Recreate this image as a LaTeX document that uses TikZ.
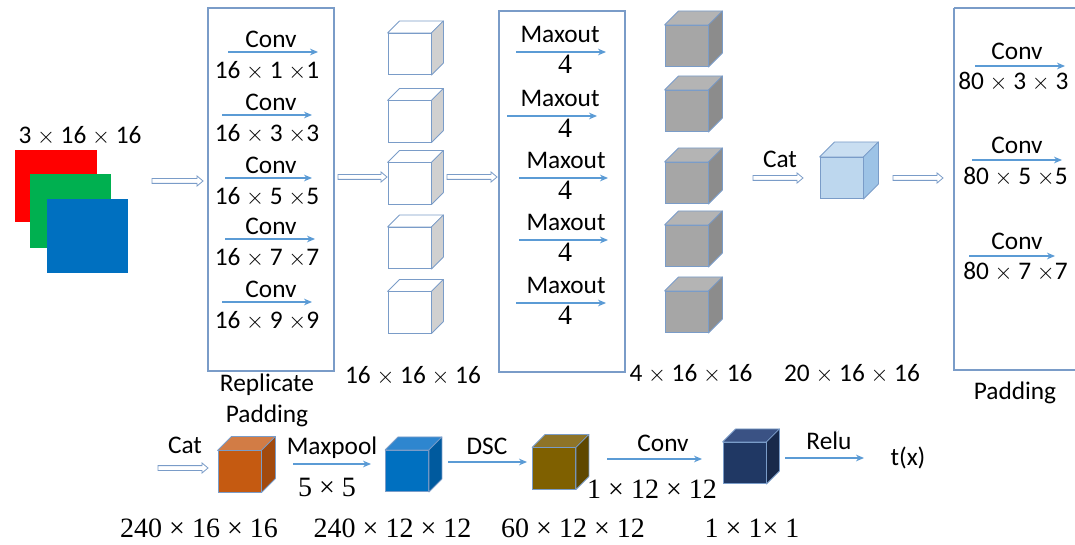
\documentclass[tikz,border=0pt]{standalone}
\usepackage{fontspec}
\setmainfont{Carlito}
\newfontfamily\sernum{Liberation Serif}
\usepackage{tikz}
\usetikzlibrary{calc,arrows.meta}
\usepackage{xcolor}

\definecolor{edgeblue}{HTML}{7A9CC8}
\definecolor{arrowblue}{HTML}{5B9BD5}
\definecolor{imgred}{HTML}{FF0000}
\definecolor{imggreen}{HTML}{00B050}
\definecolor{imgblue}{HTML}{0070C0}
\definecolor{sidegray}{HTML}{D0D0D0}
\definecolor{grayfront}{HTML}{A6A6A6}
\definecolor{graytop}{HTML}{B4B4B4}
\definecolor{grayside}{HTML}{8C8C8C}
\definecolor{catfront}{HTML}{BDD7EE}
\definecolor{cattop}{HTML}{C9DEF1}
\definecolor{catside}{HTML}{9DC3E6}
\definecolor{orfront}{HTML}{C55A11}
\definecolor{ortop}{HTML}{D27C45}
\definecolor{orside}{HTML}{A24A0E}
\definecolor{bluefront}{HTML}{0070C0}
\definecolor{bluetop}{HTML}{2E86CF}
\definecolor{blueside}{HTML}{005A9E}
\definecolor{olfront}{HTML}{7F6000}
\definecolor{oltop}{HTML}{8E7428}
\definecolor{olside}{HTML}{5F4800}
\definecolor{nvfront}{HTML}{203864}
\definecolor{nvtop}{HTML}{3A5284}
\definecolor{nvside}{HTML}{18294A}

\newcommand{\tm}{$\times$}

\tikzset{
	lbl/.style={inner sep=0pt, anchor=base, font=\fontsize{19}{22}\selectfont},
	serlbl/.style={inner sep=0pt, anchor=base, font=\sernum\fontsize{21}{24}\selectfont},
	box/.style={draw=edgeblue, line width=0.8pt},
	arr/.style={draw=arrowblue, line width=0.8pt, -{Stealth[length=6pt,width=5pt]}},
	cubefront/.style={draw=edgeblue, line width=0.6pt, minimum width=32.25pt, minimum height=31pt, inner sep=0pt},
	cubeedge/.style={draw=edgeblue, line width=0.6pt, line join=round},
	hollow/.style={draw=edgeblue, line width=0.6pt, fill=white,
		to path={let \p1=(\tikztostart), \p2=(\tikztotarget) in
			(\x1,\y1-1.8pt) -- (\x2-4.5pt,\y1-1.8pt) -- (\x2-4.5pt,\y1-3.8pt) -- (\x2,\y1)
			-- (\x2-4.5pt,\y1+3.8pt) -- (\x2-4.5pt,\y1+1.8pt) -- (\x1,\y1+1.8pt) -- cycle}}
}

% cube: name, centre of front face, front, top, side, depth
\newcommand{\drawcube}[6]{%
	\node[cubefront, fill=#3] (#1) at (#2) {};
	\draw[cubeedge, fill=#4] (#1.north west) -- ++(#6,-#6) -- ([shift={(#6,-#6)}]#1.north east) -- (#1.north east) -- cycle;
	\draw[cubeedge, fill=#5] (#1.north east) -- ++(#6,-#6) -- ([shift={(#6,-#6)}]#1.south east) -- (#1.south east) -- cycle;
}

\begin{document}
\begin{tikzpicture}[x=0.75pt, y=-0.75pt]
	\useasboundingbox (0,0) rectangle (1075,545);

	% input image, three channels
	\node[fill=imgred, minimum width=61.5pt, minimum height=54pt, inner sep=0pt] (red) at (56,186) {};
	\node[fill=imggreen, minimum width=60.75pt, minimum height=55.5pt, inner sep=0pt] (green) at (70,211) {};
	\node[fill=imgblue, minimum width=60.75pt, minimum height=55.5pt, inner sep=0pt] (blue) at (87.5,236) {};
	\node[lbl] (insize) at (80,144) {3 \tm\ 16 \tm\ 16};

	% replicate padding box with the five convolutions
	\draw[box] (208,8) rectangle (334,371);
	\node[lbl] (rep1) at (267,392) {Replicate};
	\node[lbl] (rep2) at (267,422) {Padding};
	\foreach \i/\k/\y/\xa/\xb in {1/1/52/228/318, 2/3/115/222/312, 3/5/178/225/312, 4/7/239/225/315, 5/9/302/222/312} {
		\coordinate (ca\i) at (\xa,\y);
		\coordinate (cb\i) at (\xb,\y);
		\draw[arr] (ca\i) -- (cb\i);
		\node[lbl] (conv\i) at (271,\y-4) {Conv};
		\node[lbl] (ck\i) at (267,\y+27) {16 \tm\ \k\ \tm\k};
	}

	% sixteen-channel maps
	\foreach \i/\y in {1/54, 2/121.5, 3/183.5, 4/248, 5/312.5} {
		\drawcube{w\i}{409.5,\y}{white}{white}{sidegray}{12}
	}
	\node[lbl] (wsize) at (413,383) {16 \tm\ 16 \tm\ 16};

	% maxout box
	\draw[box] (499,11) rectangle (625,372);
	\foreach \i/\y/\xa/\xb/\xt in {1/52/516/606/560, 2/116/507/597/560, 3/178/519/608/566, 4/240/519/608/566, 5/303/516/606/566} {
		\coordinate (ma\i) at (\xa,\y);
		\coordinate (mb\i) at (\xb,\y);
		\draw[arr] (ma\i) -- (mb\i);
		\node[lbl] (max\i) at (\xt,\y-9) {Maxout};
		\node[serlbl] (mk\i) at (565,\y+22) {4};
	}

	% four-channel maps
	\foreach \i/\y in {1/46, 2/111, 3/183, 4/246, 5/312} {
		\drawcube{g\i}{686.5,\y}{grayfront}{graytop}{grayside}{14}
	}
	\node[lbl] (gsize) at (691,382) {4 \tm\ 16 \tm\ 16};

	% concatenation
	\node[lbl] (cat1) at (780,168) {Cat};
	\drawcube{c1}{841.5,178}{catfront}{cattop}{catside}{15}
	\node[lbl] (csize) at (852,382) {20 \tm\ 16 \tm\ 16};

	% padding box with three convolutions
	\draw[box] (954,8) -- (1090,8) (954,8) -- (954,370) -- (1090,370);
	\node[lbl] (pad) at (1015,400) {Padding};
	\node[lbl, anchor=base west] (pk1) at (958,90) {80 \tm\ 3 \tm\ 3};
	\node[lbl, anchor=base west] (pk2) at (963,185) {80 \tm\ 5 \tm5};
	\node[lbl, anchor=base west] (pk3) at (963,280) {80 \tm\ 7 \tm7};
	\foreach \i/\y/\xa/\xb in {1/66/975/1065, 2/160/972/1062, 3/256/969/1055} {
		\coordinate (pa\i) at (\xa,\y);
		\coordinate (pb\i) at (\xb,\y);
		\draw[arr] (pa\i) -- (pb\i);
		\node[lbl] (pconv\i) at (1017,\y-6) {Conv};
	}

	% hollow arrows of the top row
	\coordinate (h1a) at (152,181); \coordinate (h1b) at (203,181);
	\coordinate (h2a) at (338,177); \coordinate (h2b) at (387,177);
	\coordinate (h3a) at (447,177); \coordinate (h3b) at (497,177);
	\coordinate (h4a) at (753,178); \coordinate (h4b) at (803,178);
	\coordinate (h5a) at (893,178); \coordinate (h5b) at (943,178);
	\draw[hollow] (h1a) to (h1b);
	\draw[hollow] (h2a) to (h2b);
	\draw[hollow] (h3a) to (h3b);
	\draw[hollow] (h4a) to (h4b);
	\draw[hollow] (h5a) to (h5b);

	% bottom row
	\node[lbl] (cat2) at (185,453) {Cat};
	\coordinate (h6a) at (158,468); \coordinate (h6b) at (208,468);
	\draw[hollow] (h6a) to (h6b);
	\drawcube{o1}{239.5,471.5}{orfront}{ortop}{orside}{14}
	\node[serlbl] (osize) at (199,537) {240 × 16 × 16};

	\node[lbl] (mpool) at (332,454) {Maxpool};
	\node[serlbl] (mpk) at (327,496) {5 × 5};
	\coordinate (b1a) at (293,464); \coordinate (b1b) at (371,464);
	\draw[arr] (b1a) -- (b1b);
	\drawcube{b1}{407,471}{bluefront}{bluetop}{blueside}{13}
	\node[serlbl] (bsize) at (392.5,537) {240 × 12 × 12};

	\node[lbl] (dsc) at (487,454) {DSC};
	\coordinate (b2a) at (448,462); \coordinate (b2b) at (527,462);
	\draw[arr] (b2a) -- (b2b);
	\drawcube{l1}{554,468.5}{olfront}{oltop}{olside}{13}
	\node[serlbl] (lsize) at (573,537) {60 × 12 × 12};

	\node[lbl] (conv6) at (663,451) {Conv};
	\node[serlbl] (ck6) at (652,498) {1 × 12 × 12};
	\coordinate (b3a) at (607,459); \coordinate (b3b) at (702,459);
	\draw[arr] (b3a) -- (b3b);
	\drawcube{n1}{744.5,463}{nvfront}{nvtop}{nvside}{13}
	\node[serlbl] (nsize) at (752,537) {1 × 1× 1};

	\node[lbl] (relu) at (829,449) {Relu};
	\coordinate (b4a) at (785,458); \coordinate (b4b) at (864,458);
	\draw[arr] (b4a) -- (b4b);
	\node[lbl] (tx) at (908,465) {t(x)};
\end{tikzpicture}
\end{document}
